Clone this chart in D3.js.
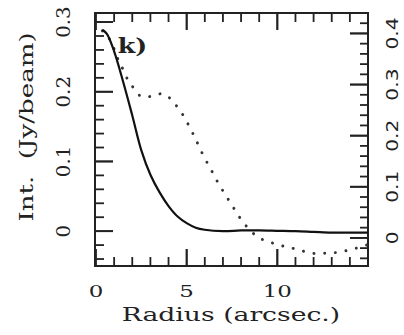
<!DOCTYPE html>
<html>
<head>
<meta charset="utf-8">
<script src="https://cdn.jsdelivr.net/npm/d3@7"></script>
<style>
body { margin: 0; background: #fff; }
svg { display: block; }
</style>
</head>
<body>
<div id="chart"></div>
<script>
// solid profile (left axis, Jy/beam)
var solidRadius = [0.35, 0.6, 1.0, 1.5, 2.0, 2.5, 3.0, 3.5, 4.0, 4.5, 5.0, 5.5, 6.0, 7.0, 8.0, 9.0, 10.0, 11.0, 12.0, 13.0, 14.0, 15.0];
var solidInt = [0.289, 0.283, 0.258, 0.214, 0.166, 0.116, 0.081, 0.056, 0.036, 0.021, 0.0115, 0.005, 0.002, 0.0, 0.001, 0.001, 0.0005, 0.0, -0.001, -0.002, -0.002, -0.002];
// dotted profile (right axis)
var dotRadius = [0.35, 0.6, 1.0, 1.23, 1.5, 1.76, 2.06, 2.48, 3.07, 3.69, 4.2, 4.56, 4.9, 5.18, 5.45, 5.64, 5.95, 6.24, 6.52, 6.79, 7.11, 7.42, 7.71, 8.08, 8.48, 8.94, 9.49, 10.1, 10.69, 11.24, 11.88, 12.52, 13.17, 13.81, 14.36, 15.0];
var dotInt = [0.405, 0.397, 0.37, 0.348, 0.329, 0.309, 0.294, 0.277, 0.277, 0.282, 0.269, 0.252, 0.235, 0.215, 0.197, 0.182, 0.159, 0.14, 0.122, 0.104, 0.086, 0.068, 0.052, 0.032, 0.016, 0.001, -0.007, -0.014, -0.019, -0.024, -0.03, -0.03, -0.029, -0.025, -0.02, -0.013];

var xTicks = [0, 5, 10];
var leftTicks = [0, 0.1, 0.2, 0.3];
var rightTicks = [0, 0.1, 0.2, 0.3, 0.4];

var margin = {top: 13, right: 36, bottom: 69, left: 95};
var width = 404 - margin.left - margin.right;
var height = 335 - margin.top - margin.bottom;

var svg = d3.select("#chart").append("svg")
    .attr("width", 404)
    .attr("height", 335);
var g = svg.append("g")
    .attr("transform", "translate(" + margin.left + "," + margin.top + ")");

// Scales
var xScale = d3.scaleLinear().domain([0, 15]).range([1, width]);
var yLeft = d3.scaleLinear().domain([-0.05, 0.313]).range([height, 0]);
var yRight = d3.scaleLinear().domain([-0.055, 0.44]).range([height, 0]);

var xMinor = d3.range(1, 15);
var leftMinor = d3.range(-2, 16).map(function (i) { return i * 0.02; });
var rightMinor = d3.range(-2, 22).map(function (i) { return i * 0.02; });

// frame
g.append("path")
    .attr("d", "M0,0H" + width + "V" + height + "H0Z")
    .style("fill", "none")
    .attr("stroke", "#222")
    .attr("stroke-width", 2);

// ticks, all pointing inwards
var tickG = g.append("g").attr("class", "ticks");
tickG.selectAll("path.xb").data(xMinor.concat(xTicks)).enter().append("path")
    .attr("class", "xb")
    .attr("d", function (d) {
        var len = xTicks.indexOf(d) >= 0 ? 17 : 9;
        return "M" + xScale(d) + "," + height + "V" + (height - len) + "M" + xScale(d) + ",0V" + len;
    });
tickG.selectAll("path.yl").data(leftMinor.concat(leftTicks)).enter().append("path")
    .attr("class", "yl")
    .attr("d", function (d) {
        var len = leftTicks.indexOf(d) >= 0 ? 18 : 9;
        return "M0," + yLeft(d) + "H" + len;
    });
tickG.selectAll("path.yr").data(rightMinor.concat(rightTicks)).enter().append("path")
    .attr("class", "yr")
    .attr("d", function (d) {
        var len = rightTicks.indexOf(d) >= 0 ? 18 : 8;
        return "M" + width + "," + yRight(d) + "H" + (width - len);
    });
tickG.selectAll("path")
    .attr("stroke", "#222")
    .attr("stroke-width", 1.8)
    .style("fill", "none");

// lines
var solidLine = d3.line()
    .x(function (d, i) { return xScale(solidRadius[i]); })
    .y(function (d) { return yLeft(d); })
    .curve(d3.curveCatmullRom);
var dotLine = d3.line()
    .x(function (d, i) { return xScale(dotRadius[i]); })
    .y(function (d) { return yRight(d); })
    .curve(d3.curveCatmullRom);

g.append("path")
    .datum(dotInt)
    .attr("d", dotLine)
    .style("fill", "none")
    .attr("stroke", "#333")
    .attr("stroke-width", 2.9)
    .attr("stroke-linecap", "round")
    .attr("stroke-dasharray", "0.1,10.6");

g.append("path")
    .datum(solidInt)
    .attr("d", solidLine)
    .style("fill", "none")
    .attr("stroke", "#111")
    .attr("stroke-width", 2.2);

var serif = "DejaVu Serif";
var ink = "#222";

// panel letter
g.append("text")
    .attr("transform", "translate(" + xScale(1.2) + ",40) scale(1.2,1)")
    .attr("font-family", serif)
    .attr("font-weight", "bold")
    .attr("font-size", 21)
    .attr("fill", ink)
    .text("k)");

// tick labels
svg.append("g").selectAll("text")
    .data(xTicks).enter().append("text")
    .attr("transform", function (d) { return "translate(" + (margin.left + xScale(d)) + ",297) scale(1.35,1)"; })
    .attr("text-anchor", "middle")
    .attr("font-family", serif)
    .attr("font-size", 17)
    .attr("fill", ink)
    .text(function (d) { return d; });

svg.append("g").selectAll("text")
    .data(leftTicks).enter().append("text")
    .attr("transform", function (d) { return "translate(70," + (margin.top + yLeft(d)) + ") rotate(-90) scale(1.1,1)"; })
    .attr("text-anchor", "middle")
    .attr("font-family", serif)
    .attr("font-size", 18)
    .attr("fill", ink)
    .text(function (d) { return d; });

svg.append("g").selectAll("text")
    .data(rightTicks).enter().append("text")
    .attr("transform", function (d) { return "translate(398," + (margin.top + yRight(d)) + ") rotate(-90) scale(1.35,1)"; })
    .attr("text-anchor", "middle")
    .attr("font-family", "DejaVu Sans")
    .attr("font-size", 15)
    .attr("fill", ink)
    .text(function (d) { return d; });

// axis titles
svg.append("text")
    .attr("transform", "translate(231,321) scale(1.48,1)")
    .attr("text-anchor", "middle")
    .attr("font-family", serif)
    .attr("font-size", 18)
    .attr("fill", ink)
    .text("Radius (arcsec.)");

svg.append("text")
    .attr("transform", "translate(33,127) rotate(-90) scale(1.45,1)")
    .attr("text-anchor", "middle")
    .attr("font-family", serif)
    .attr("font-size", 18)
    .attr("fill", ink)
    .attr("xml:space", "preserve")
    .text("Int.  (Jy/beam)");
</script>
</body>
</html>
